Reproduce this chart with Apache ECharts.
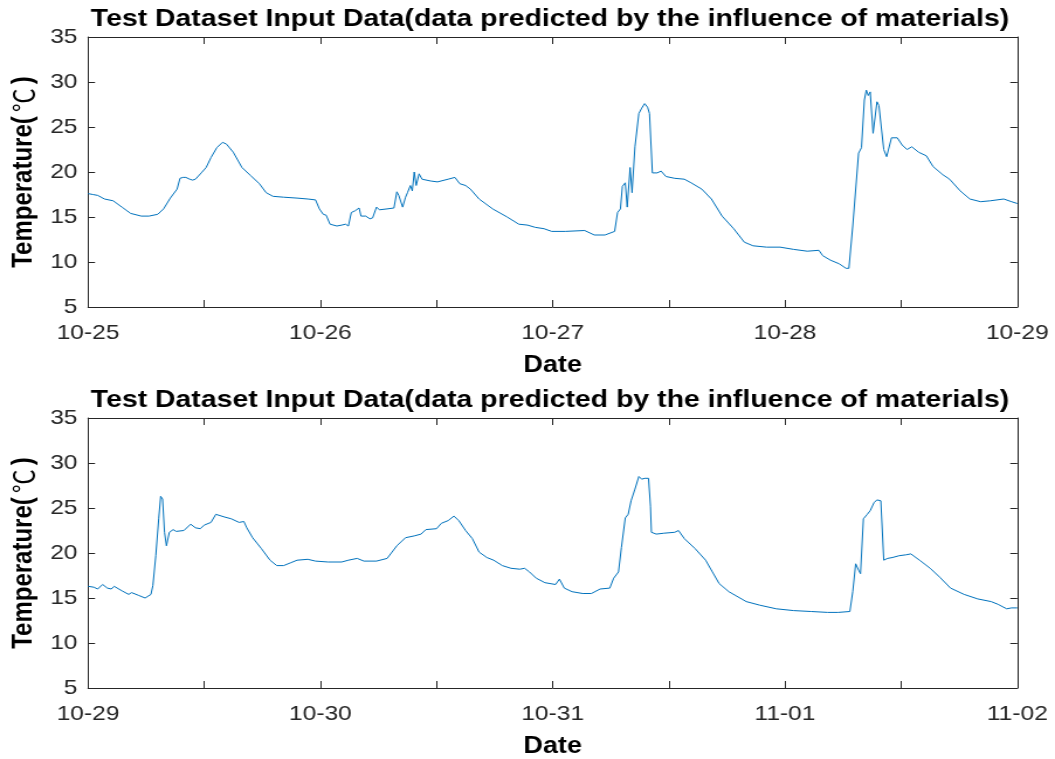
<!DOCTYPE html>
<html>
<head>
<meta charset="utf-8">
<script src="https://cdn.jsdelivr.net/npm/echarts@6/dist/echarts.min.js"></script>
<style>
  html, body { margin: 0; padding: 0; background: #fff; }
  #frame { width: 1055px; height: 759px; overflow: hidden; }
  /* the figure is laid out on a narrower canvas and widened horizontally */
  #chart { width: 902px; height: 759px; transform: scaleX(1.16962); transform-origin: 0 0; }
</style>
</head>
<body>
<div id="frame"><div id="chart"></div></div>
<script>
// Hours elapsed since the first date of each panel, and the measured temperature (°C)
const topHours = [0,0.5,1.0,1.7,2.6,3.5,4.4,5.5,6.3,7.2,7.8,8.5,9.2,9.5,9.8,10.1,10.5,10.8,11.1,11.7,12.2,12.7,13.3,13.9,14.3,15.0,15.9,16.8,17.7,18.4,19.1,20.2,21.6,22.7,23.5,23.9,24.3,24.6,25.0,25.7,26.2,26.6,26.9,27.2,27.6,28.0,28.2,28.7,29.1,29.4,29.8,30.1,30.9,31.6,31.9,32.1,32.5,32.8,33.0,33.3,33.5,33.7,33.9,34.2,34.5,35.4,36.1,37.2,37.9,38.4,39.0,39.5,40.4,41.8,43.3,44.5,45.4,46.2,47.1,47.9,49.3,51.3,52.3,53.4,54.4,54.7,55.0,55.2,55.5,55.7,56.0,56.2,56.5,56.7,56.9,57.2,57.5,57.8,58.0,58.3,58.8,59.2,59.7,60.6,61.6,62.3,63.4,64.4,65.5,66.7,67.8,68.7,70.1,71.5,72.9,74.3,75.5,75.9,76.7,77.6,78.3,78.6,79.0,79.6,79.9,80.2,80.4,80.6,80.8,81.1,81.5,81.7,82.2,82.5,83.0,83.6,84.1,84.6,85.1,85.8,86.6,87.3,88.3,89.0,90.1,91.1,92.2,93.2,94.6,95.4,96.0];
const topTemps = [17.6,17.5,17.4,17.0,16.8,16.1,15.4,15.1,15.1,15.3,15.9,17.1,18.1,19.3,19.4,19.4,19.2,19.1,19.2,19.9,20.5,21.6,22.7,23.3,23.1,22.2,20.5,19.6,18.7,17.7,17.3,17.2,17.1,17.0,16.9,15.9,15.3,15.2,14.2,14.0,14.1,14.2,14.0,15.5,15.7,16.0,15.1,15.1,14.8,14.9,16.1,15.8,15.9,16.0,17.8,17.4,16.1,17.2,17.7,18.5,17.9,20.0,18.5,19.8,19.2,19.0,18.9,19.2,19.4,18.7,18.5,18.1,17.0,15.9,15.0,14.2,14.1,13.85,13.7,13.4,13.4,13.5,13.0,13.0,13.4,15.5,15.9,18.4,18.8,16.1,20.5,17.7,22.8,22.8,26.5,27.1,27.6,27.2,26.5,19.9,19.9,20.1,19.5,19.3,19.2,18.8,18.1,17.0,15.1,13.7,12.2,11.8,11.65,11.65,11.4,11.2,11.3,10.7,10.2,9.8,9.3,9.3,14.0,22.1,22.7,28.0,29.1,28.5,28.9,24.3,27.8,27.4,22.5,21.7,23.8,23.8,23.0,22.5,22.8,22.2,21.8,20.6,19.7,19.2,17.9,17.0,16.7,16.8,17.0,16.7,16.5];

const bottomHours = [0,0.6,1.0,1.5,2.0,2.4,2.7,3.5,4.2,4.5,5.2,5.9,6.5,6.7,7.0,7.3,7.5,7.7,7.9,8.1,8.3,8.4,8.8,9.1,9.9,10.6,11.1,11.6,12.0,12.7,13.2,14.1,14.8,15.6,16.1,16.4,17.0,17.9,18.8,19.5,20.2,20.9,21.6,22.7,23.5,24.8,26.2,26.9,27.8,28.5,29.8,30.9,31.9,32.8,33.7,34.4,34.9,36.0,36.5,37.2,37.8,38.3,39.0,39.7,40.4,41.2,41.9,42.8,43.7,44.6,45.1,45.6,46.3,47.2,48.3,48.7,49.2,50.0,51.1,52.0,52.9,53.9,54.3,54.8,55.1,55.5,55.8,56.1,56.5,56.9,57.2,57.5,57.9,58.1,58.2,58.7,59.5,60.6,61.0,61.6,62.7,63.8,64.5,65.2,66.2,68.0,69.4,71.1,72.9,74.7,76.4,77.5,78.7,79.0,79.3,79.6,79.8,80.1,80.5,80.8,81.2,81.5,81.9,82.2,82.6,83.1,83.8,84.5,85.0,85.9,87.0,88.0,89.1,90.5,91.9,93.3,94.0,94.9,95.4,96.0];
const bottomTemps = [16.3,16.2,16.0,16.5,16.1,16.0,16.3,15.8,15.4,15.6,15.3,15.0,15.4,16.4,19.7,23.8,26.3,26.0,22.3,20.8,20.8,22.3,22.6,22.4,22.5,23.2,22.8,22.7,23.1,23.4,24.3,24.0,23.8,23.4,23.5,22.8,21.7,20.5,19.2,18.6,18.6,18.9,19.2,19.3,19.1,19.0,19.0,19.2,19.4,19.1,19.1,19.4,20.8,21.7,21.9,22.1,22.6,22.7,23.3,23.6,24.1,23.6,22.5,21.6,20.1,19.5,19.2,18.6,18.3,18.2,18.3,17.9,17.2,16.7,16.5,17.1,16.1,15.7,15.5,15.5,16.0,16.1,17.2,17.9,20.6,23.9,24.3,25.8,27.1,28.5,28.2,28.3,28.3,25.2,22.3,22.1,22.2,22.3,22.5,21.6,20.5,19.2,17.9,16.6,15.7,14.6,14.2,13.8,13.6,13.5,13.4,13.4,13.5,15.7,18.8,18.1,17.7,23.8,24.3,24.7,25.6,25.9,25.8,19.2,19.4,19.5,19.7,19.8,19.9,19.2,18.3,17.3,16.1,15.4,14.9,14.6,14.3,13.8,13.9,13.9];

// Date labels at each midnight of the two panels
const topDayLabels = ['10-25', '10-26', '10-27', '10-28', '10-29'];
const bottomDayLabels = ['10-29', '10-30', '10-31', '11-01', '11-02'];

const panelTitle = 'Test Dataset Input Data(data predicted by the influence of materials)';
const xName = 'Date';
// the degree sign is set in a CJK face, the rest in the bold sans
const yName = 'Temperature({deg|℃})';

const pairs = (xs, ys) => xs.map((x, i) => [x, ys[i]]);

const FONT = '"Liberation Sans", Arial, "Noto Sans CJK SC", sans-serif';
const CJK_FONT = '"Noto Sans CJK SC", sans-serif';
const AXIS_COLOR = '#262626';
const LINE_COLOR = '#0072BD';

const gridLeft = 70.71, gridWidth = 799.07;
const grids = [
  { left: gridLeft, top: 37, width: gridWidth, height: 270 },
  { left: gridLeft, top: 418, width: gridWidth, height: 271 }
];

function xAxes(gridIndex, labels) {
  const common = {
    gridIndex, type: 'value', min: 0, max: 96, interval: 12,
    axisLine: { show: true, onZero: false, lineStyle: { color: AXIS_COLOR, width: 1 } },
    axisTick: { show: true, inside: true, length: 7, lineStyle: { color: AXIS_COLOR } },
    splitLine: { show: false }
  };
  return [
    Object.assign({}, common, {
      position: 'bottom',
      name: xName, nameLocation: 'middle', nameGap: 47,
      nameTextStyle: { fontFamily: FONT, fontSize: 23, fontWeight: 'bold', color: '#000' },
      axisLabel: {
        show: true, margin: 16, fontFamily: FONT, fontSize: 21, color: AXIS_COLOR,
        formatter: v => (v % 24 === 0 ? labels[v / 24] : '')
      }
    }),
    Object.assign({}, common, { position: 'top', axisLabel: { show: false } })
  ];
}

function yAxes(gridIndex) {
  const common = {
    gridIndex, type: 'value', min: 5, max: 35, interval: 5,
    axisLine: { show: true, onZero: false, lineStyle: { color: AXIS_COLOR, width: 1 } },
    axisTick: { show: true, inside: true, length: 6, lineStyle: { color: AXIS_COLOR } },
    splitLine: { show: false }
  };
  return [
    Object.assign({}, common, {
      position: 'left',
      name: yName, nameLocation: 'middle', nameGap: 42,
      nameTextStyle: {
        fontFamily: FONT, fontSize: 24, fontWeight: 'bold', color: '#000',
        rich: {
          deg: { fontFamily: CJK_FONT, fontSize: 24, fontWeight: 'normal', color: '#000', padding: [0, 4] }
        }
      },
      axisLabel: { show: true, margin: 9, fontFamily: FONT, fontSize: 21, color: AXIS_COLOR }
    }),
    Object.assign({}, common, { position: 'right', axisLabel: { show: false } })
  ];
}

const titleStyle = { fontFamily: FONT, fontSize: 24.3, fontWeight: 'bold', color: '#000' };

const chart = echarts.init(document.getElementById('chart'), null, { renderer: 'canvas' });
chart.setOption({
  backgroundColor: '#fff',
  animation: false,
  title: [
    { text: panelTitle, left: gridLeft + gridWidth / 2, top: 7.5, textAlign: 'center', padding: 0, textStyle: titleStyle },
    { text: panelTitle, left: gridLeft + gridWidth / 2, top: 388.5, textAlign: 'center', padding: 0, textStyle: titleStyle }
  ],
  grid: grids,
  xAxis: [].concat(xAxes(0, topDayLabels), xAxes(1, bottomDayLabels)),
  yAxis: [].concat(yAxes(0), yAxes(1)),
  series: [
    {
      type: 'line', xAxisIndex: 0, yAxisIndex: 0,
      data: pairs(topHours, topTemps),
      showSymbol: false, lineStyle: { color: LINE_COLOR, width: 1 }, itemStyle: { color: LINE_COLOR }
    },
    {
      type: 'line', xAxisIndex: 2, yAxisIndex: 2,
      data: pairs(bottomHours, bottomTemps),
      showSymbol: false, lineStyle: { color: LINE_COLOR, width: 1 }, itemStyle: { color: LINE_COLOR }
    }
  ]
});
</script>
</body>
</html>
